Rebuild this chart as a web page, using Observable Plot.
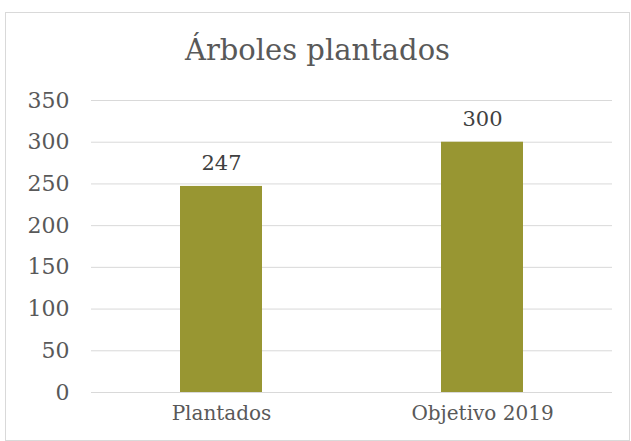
<!DOCTYPE html>
<html><head><meta charset="utf-8">
<script src="https://cdn.jsdelivr.net/npm/d3@7"></script>
<script src="https://cdn.jsdelivr.net/npm/@observablehq/plot@0.6"></script>
<style>
body{margin:0;background:#fff;font-family:"DejaVu Serif",serif;}
#frame{position:absolute;left:5px;top:12px;width:625px;height:429px;box-sizing:border-box;border:1px solid #d9d9d9;}
#title{position:absolute;left:5px;width:625px;top:32px;text-align:center;font-size:29px;line-height:36px;color:#595959;}
#chart{position:absolute;left:0;top:80px;}
</style></head>
<body>
<div id="frame"></div>
<div id="title">Árboles plantados</div>
<div id="chart"></div>
<script>
const categories = ["Plantados", "Objetivo 2019"];
const values = [247, 300];
const yTicks = [0, 50, 100, 150, 200, 250, 300, 350];
const data = categories.map((c, i) => ({cat: c, val: values[i]}));
const plot = Plot.plot({
  width: 631, height: 350,
  marginLeft: 91, marginRight: 19, marginTop: 20, marginBottom: 38,
  style: {fontFamily: '"DejaVu Serif", serif', fontSize: "19px", color: "#595959", background: "transparent"},
  x: {domain: categories, paddingInner: 0.686, paddingOuter: 0.341, label: null, tickSize: 0, tickPadding: 12},
  y: {domain: [0, 350], ticks: yTicks, label: null, tickSize: 0, tickPadding: 22, grid: false},
  marks: [
    Plot.gridY(yTicks, {stroke: "#d9d9d9", strokeOpacity: 1, strokeWidth: 1}),
    Plot.barY(data, {x: "cat", y: "val", fill: "#989632"}),
    Plot.text(data, {x: "cat", y: "val", text: d => String(d.val), dy: -23, fill: "#404040", fontSize: 21}),
    Plot.axisX({tickSize: 0, tickPadding: 13, fontSize: 20}),
    Plot.axisY(yTicks, {tickSize: 0, tickPadding: 22, fontSize: 22})
  ]
});
document.getElementById("chart").appendChild(plot);
</script>
</body></html>
